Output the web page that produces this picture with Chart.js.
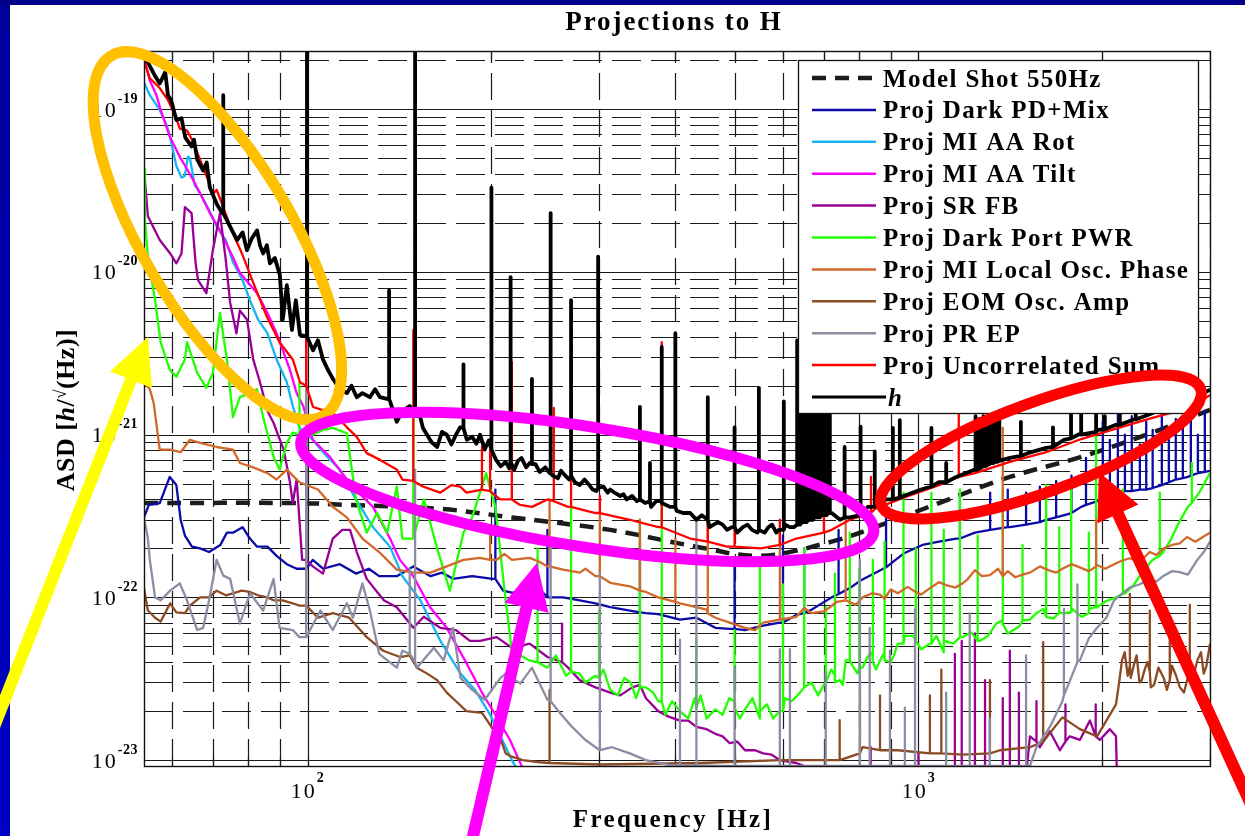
<!DOCTYPE html>
<html>
<head>
<meta charset="utf-8">
<title>Projections to H</title>
<script src="https://cdn.jsdelivr.net/npm/chart.js@4.4.1/dist/chart.umd.min.js"></script>
<style>
  html, body { margin: 0; padding: 0; background: #fff; overflow: hidden; }
  canvas { display: block; }
</style>
</head>
<body>
<canvas id="c" width="1245" height="836"></canvas>
<script>
// ---- axis ranges ----
const X_MIN = 54, X_MAX = 3000;
const Y_MIN = 0.92e-23, Y_MAX = 2.28e-19;
const X_DECADES = [2, 3];
const Y_DECADES = [-23, -22, -21, -20, -19];

// ---- series: [frequency Hz, ASD] and spikes [frequency Hz, base ASD, peak ASD] ----
const shotLine = [[54,3.8e-22],[97,3.8e-22],[116,3.7e-22],[165,3.5e-22],[216,3.1e-22],[313,2.6e-22],[433,2.05e-22],[552,1.8e-22],[721,2.2e-22],[849,2.7e-22],[1080,3.8e-22],[1411,5.5e-22],[1846,7.3e-22],[2415,1.03e-21],[3000,1.42e-21]];

const darkPdLine = [[54,3.1e-22],[55,3.7e-22],[57.3,3.8e-22],[58.8,4.9e-22],[59.5,5.5e-22],[61,4.9e-22],[62,3.0e-22],[63,2.4e-22],[64.7,2.05e-22],[66.7,2.0e-22],[69,1.9e-22],[72,2.1e-22],[73.8,2.5e-22],[75.5,2.5e-22],[78.3,2.7e-22],[80.5,2.3e-22],[82.7,2.05e-22],[86,2.05e-22],[89,1.8e-22],[92.5,1.6e-22],[96,1.5e-22],[102,1.7e-22],[106,1.5e-22],[113,1.6e-22],[120,1.4e-22],[126,1.5e-22],[131,1.35e-22],[140,1.35e-22],[149,1.55e-22],[159,1.35e-22],[166,1.42e-22],[173,1.3e-22],[186,1.35e-22],[201,1.3e-22],[209,1.1e-22],[216,1.07e-22],[231,1.07e-22],[240,1.12e-22],[247,1.0e-22],[262,1.0e-22],[279,9.6e-23],[296,9.2e-23],[313,8.7e-23],[337,8.3e-23],[358,8.0e-23],[375,7.9e-23],[407,7.3e-23],[433,7.5e-23],[465,6.5e-23],[491,6.4e-23],[520,6.3e-23],[557,6.7e-23],[593,7.0e-23],[631,7.8e-23],[668,8.4e-23],[721,1.0e-22],[772,1.14e-22],[804,1.27e-22],[885,1.53e-22],[945,1.86e-22],[1015,2.1e-22],[1080,2.2e-22],[1153,2.3e-22],[1237,2.5e-22],[1411,2.7e-22],[1618,3.0e-22],[1846,3.6e-22],[2105,4.4e-22],[2415,4.7e-22],[2760,5.5e-22],[3000,6.0e-22]];
const darkPdSpikes = [[99.5,1.5e-22,9.6e-22],[203,1.3e-22,4.6e-22],[247,1.0e-22,2.6e-22],[350,8.1e-23,2.2e-22],[500,6.4e-23,1.6e-22],[600,7.0e-23,2.4e-22],[650,8.0e-23,2.0e-22],[740,1.05e-22,2.6e-22],[885,1.53e-22,3.2e-22],[1169,2.3e-22,4.2e-22],[1310,2.6e-22,4.4e-22],[1400,2.7e-22,4.6e-22],[1500,2.8e-22,4.4e-22],[1580,2.9e-22,4.8e-22],[1680,3.1e-22,5.2e-22],[1780,3.3e-22,5.6e-22],[1880,3.7e-22,7.2e-22],[2003,4.0e-22,1.2e-21],[2057,4.2e-22,9.3e-22],[2120,4.4e-22,1.33e-21],[2177,4.5e-22,1.0e-21],[2234,4.5e-22,1.3e-21],[2303,4.6e-22,8.7e-22],[2359,4.6e-22,1.2e-21],[2417,4.7e-22,1.07e-21],[2502,4.9e-22,1.33e-21],[2569,5.1e-22,9.3e-22],[2637,5.3e-22,1.25e-21],[2708,5.4e-22,1.1e-21],[2791,5.6e-22,1.33e-21],[2866,5.8e-22,1.0e-21],[2942,5.9e-22,1.4e-21]];

const aaRotLine = [[54,1.46e-19],[55.2,1.22e-19],[57.3,9.9e-20],[58.8,8.0e-20],[59.6,6.7e-20],[61,4.5e-20],[62.2,3.8e-20],[63,3.9e-20],[63.7,5.1e-20],[64.2,5.0e-20],[65.4,3.4e-20],[66.7,3.05e-20],[69,2.4e-20],[71,1.9e-20],[73.5,1.57e-20],[75.5,1.15e-20],[78.3,8.9e-21],[80.5,6.7e-21],[83,5.1e-21],[86,4.2e-21],[89,2.9e-21],[92.5,2.1e-21],[94.6,1.5e-21],[97,1.1e-21],[102,9.3e-22],[107,7.5e-22],[113,6.1e-22],[120,4.0e-22],[128,2.7e-22],[136.5,2.05e-22],[143,1.35e-22],[153,9.6e-23],[165,5.4e-23],[178,3.4e-23],[188,2.7e-23],[199,1.9e-23],[207,1.4e-23],[216,1.0e-23],[223,8.1e-24]];

const aaTiltLine = [[54,2.06e-19],[55.2,1.5e-19],[56.6,1.22e-19],[57.5,9.9e-20],[59.6,6.7e-20],[61.8,5.1e-20],[64.2,4.0e-20],[66.7,3.05e-20],[69.2,2.3e-20],[71.9,1.8e-20],[75.5,1.23e-20],[77.5,9.9e-21],[82.7,7.4e-21],[86,5.6e-21],[89,4.2e-21],[93.6,2.5e-21],[96,1.8e-21],[98.4,1.5e-21],[102,9.3e-22],[108.8,7.3e-22],[116,5.3e-22],[122,4.3e-22],[128,3.6e-22],[136.5,2.3e-22],[141.7,1.7e-22],[149,1.35e-22],[158.7,8.7e-23],[169,6.5e-23],[181,4.1e-23],[193,2.6e-23],[203,1.9e-23],[214.5,1.33e-23],[223,9.6e-24],[228,8.0e-24]];

const srFbLine = [[54,4.3e-20],[54.8,2.2e-20],[57.3,1.57e-20],[59.6,1.3e-20],[61,1.13e-20],[62.2,1.3e-20],[63,2.5e-20],[64.6,2.3e-20],[65.6,1.13e-20],[66.2,8.9e-21],[68.3,7.4e-21],[70,1.36e-20],[71.9,2.3e-20],[73.5,1.18e-20],[74.7,6.5e-21],[76.5,4.2e-21],[77.5,5.8e-21],[79.6,5.1e-21],[81.5,2.9e-21],[83.6,2.1e-21],[86,1.4e-21],[88,1.18e-21],[91.4,8.1e-22],[93.6,5.1e-22],[94.6,3.8e-22],[96,5.3e-22],[98,1.7e-22],[102,1.55e-22],[106,1.4e-22],[110,2.3e-22],[114,2.6e-22],[117.4,2.6e-22],[120.4,1.9e-22],[125,1.3e-22],[133.3,9.6e-23],[140,8.7e-23],[149,6.5e-23],[155,7.6e-23],[165,6.5e-23],[175,6.3e-23],[184.5,5.4e-23],[191.6,5.4e-23],[204,5.7e-23],[216,4.9e-23],[231,5.2e-23],[247,4.3e-23],[267,3.7e-23],[279,3.1e-23],[296,2.8e-23],[313,2.6e-23],[325,2.5e-23],[340,2.8e-23],[350,2.9e-23],[358,2.4e-23],[375,2.0e-23],[390,1.85e-23],[407,1.75e-23],[420,1.75e-23],[433,1.6e-23],[450,1.55e-23],[465,1.45e-23],[478,1.4e-23],[491,1.27e-23],[505,1.3e-23],[520,1.15e-23],[540,1.15e-23],[557,1.1e-23],[575,1.08e-23],[593,1.0e-23],[631,9.6e-24],[716,8.0e-24],[1500,8.0e-24],[1522,1.4e-23],[1580,1.2e-23],[1641,1.5e-23],[1704,1.15e-23],[1769,1.4e-23],[1837,1.33e-23],[1908,1.75e-23],[1981,1.33e-23],[2057,1.55e-23],[2105,1.4e-23],[2113,7.6e-24],[3000,7.0e-24]];
const srFbSpikes = [[99.5,1.7e-22,7.0e-21],[261,4.0e-23,6.9e-23],[835,8.0e-24,1.2e-23],[1000,8.0e-24,1.1e-23],[1147,8.0e-24,4.5e-23],[1177,8.0e-24,5.4e-23],[1237,8.0e-24,6.0e-23],[1285,8.0e-24,3.1e-23],[1374,8.0e-24,2.4e-23],[1411,8.0e-24,4.7e-23],[1460,8.0e-24,2.6e-23],[1560,1.3e-23,2.3e-23],[1740,1.3e-23,2.2e-23],[1950,1.4e-23,2.2e-23]];

const darkPortLine = [[54,4.3e-20],[54.2,2.1e-20],[54.8,1.23e-20],[56.3,6.7e-21],[57.5,3.7e-21],[59.5,2.5e-21],[61,2.27e-21],[63,2.9e-21],[63.5,3.7e-21],[66,2.4e-21],[68.3,1.94e-21],[70,2.4e-21],[71.9,5.6e-21],[73.8,2.9e-21],[75.5,1.28e-21],[77.5,1.7e-21],[80.5,1.8e-21],[82.7,1.9e-21],[84.6,1.28e-21],[88,7.3e-22],[90,6.1e-22],[92.5,8.9e-22],[94.6,1.03e-21],[102,1.0e-21],[106,1.07e-21],[110,1.1e-21],[116,1.02e-21],[120,4.0e-22],[125,2.5e-22],[130,3.3e-22],[135,2.5e-22],[140,4.8e-22],[143,2.3e-22],[155,4.0e-22],[163,2.0e-22],[171,1.1e-22],[180,2.5e-22],[186,3.1e-22],[196,5.8e-22],[203,3.6e-22],[211,9.6e-23],[216,4.7e-23],[231,4.1e-23],[247,3.7e-23],[255,4.4e-23],[265,3.3e-23],[279,3.4e-23],[285,3.0e-23],[296,3.3e-23],[305,3.6e-23],[313,2.7e-23],[322,2.5e-23],[330,3.2e-23],[338,3.0e-23],[345,2.4e-23],[358,2.8e-23],[368,2.6e-23],[375,2.3e-23],[385,1.9e-23],[395,2.3e-23],[407,2.0e-23],[420,1.8e-23],[430,2.4e-23],[440,2.5e-23],[450,1.8e-23],[465,2.05e-23],[478,1.9e-23],[490,2.4e-23],[500,2.3e-23],[510,1.8e-23],[520,2.05e-23],[535,2.4e-23],[550,1.8e-23],[565,2.2e-23],[578,1.8e-23],[593,2.0e-23],[605,2.4e-23],[620,2.3e-23],[640,2.6e-23],[668,3.0e-23],[685,2.5e-23],[700,2.9e-23],[720,3.6e-23],[730,3.3e-23],[744,3.1e-23],[752,2.9e-23],[760,4.1e-23],[780,3.8e-23],[795,3.4e-23],[810,3.7e-23],[825,4.3e-23],[840,4.6e-23],[852,3.6e-23],[865,4.1e-23],[880,4.6e-23],[900,4.0e-23],[912,4.4e-23],[925,5.2e-23],[950,5.8e-23],[980,5.8e-23],[1010,4.8e-23],[1044,5.2e-23],[1070,5.8e-23],[1100,4.6e-23],[1140,5.2e-23],[1181,5.7e-23],[1220,6.1e-23],[1260,5.4e-23],[1300,5.8e-23],[1340,6.9e-23],[1370,7.2e-23],[1400,6.0e-23],[1460,6.6e-23],[1522,7.3e-23],[1560,8.0e-23],[1600,8.5e-23],[1660,7.4e-23],[1720,8.0e-23],[1780,8.6e-23],[1850,7.6e-23],[1900,8.0e-23],[1960,8.7e-23],[2030,9.5e-23],[2105,1.0e-22],[2180,1.06e-22],[2250,1.19e-22],[2330,1.45e-22],[2415,1.7e-22],[2500,1.85e-22],[2578,2.2e-22],[2670,2.9e-22],[2760,3.6e-22],[2880,4.4e-22],[3000,5.8e-22]];
const darkPortSpikes = [[97,1.0e-21,2.1e-21],[149,2.3e-22,1.46e-21],[238,4.0e-23,2.0e-22],[270,3.5e-23,4.0e-22],[300,3.2e-23,8.3e-23],[350,2.8e-23,3.0e-22],[380,2.3e-23,4.0e-22],[433,2.1e-23,5.5e-23],[500,2.1e-23,6.3e-23],[550,2.0e-23,1.7e-22],[600,2.0e-23,1.2e-22],[650,2.8e-23,2.0e-22],[705,3.0e-23,8.7e-23],[730,3.0e-23,1.4e-22],[772,4.1e-23,2.5e-22],[800,3.7e-23,1.5e-22],[842,4.0e-23,1.7e-22],[880,4.1e-23,2.2e-22],[945,5.2e-23,4.4e-22],[990,5.4e-23,2.0e-22],[1050,5.2e-23,4.4e-22],[1100,5.4e-23,2.6e-22],[1169,5.7e-23,4.6e-22],[1250,5.4e-23,2.4e-22],[1374,6.9e-23,4.6e-22],[1480,7.2e-23,2.1e-22],[1618,7.6e-23,4.9e-22],[1700,8.0e-23,2.7e-22],[1777,8.1e-23,4.6e-22],[1900,8.5e-23,2.5e-22],[1953,8.7e-23,9.7e-22],[2160,1.05e-22,4.6e-22],[2483,1.8e-22,4.4e-22],[2801,3.8e-22,6.7e-22]];

const loPhaseLine = [[54,2.1e-21],[55.2,1.9e-21],[56,1.57e-21],[57.3,8.1e-22],[59.6,8.1e-22],[62,7.8e-22],[64.2,9.3e-22],[66.7,8.9e-22],[71,8.4e-22],[75.5,8.1e-22],[77.5,6.7e-22],[81.5,6.3e-22],[86,5.8e-22],[89,5.3e-22],[92.5,6.1e-22],[97,5.1e-22],[104,4.6e-22],[110,3.6e-22],[116,3.1e-22],[123,2.3e-22],[131,1.9e-22],[140,1.48e-22],[149,1.42e-22],[159,1.42e-22],[169,1.55e-22],[180,1.7e-22],[191.6,1.75e-22],[204,1.7e-22],[210,1.85e-22],[216,1.7e-22],[231,1.75e-22],[240,1.65e-22],[247,1.55e-22],[262,1.48e-22],[279,1.42e-22],[285,1.5e-22],[296,1.35e-22],[313,1.23e-22],[337,1.17e-22],[350,1.1e-22],[358,1.08e-22],[375,1.0e-22],[407,9.2e-23],[433,8.7e-23],[450,8.4e-23],[465,7.5e-23],[491,7.0e-23],[520,6.5e-23],[540,6.3e-23],[557,7.0e-23],[593,7.3e-23],[631,7.6e-23],[650,8.6e-23],[668,8.0e-23],[700,8.2e-23],[716,8.7e-23],[735,9.4e-23],[760,9.6e-23],[790,9.0e-23],[810,1.0e-22],[840,1.06e-22],[865,1.04e-22],[880,9.8e-23],[900,1.12e-22],[925,1.06e-22],[960,1.16e-22],[985,1.09e-22],[1010,1.04e-22],[1044,1.14e-22],[1080,1.24e-22],[1110,1.19e-22],[1150,1.15e-22],[1181,1.22e-22],[1200,1.28e-22],[1237,1.47e-22],[1270,1.35e-22],[1309,1.37e-22],[1350,1.5e-22],[1400,1.45e-22],[1440,1.33e-22],[1480,1.38e-22],[1522,1.42e-22],[1580,1.55e-22],[1630,1.47e-22],[1680,1.42e-22],[1720,1.5e-22],[1780,1.6e-22],[1837,1.53e-22],[1900,1.45e-22],[1960,1.58e-22],[2020,1.5e-22],[2090,1.6e-22],[2150,1.68e-22],[2218,1.74e-22],[2300,1.65e-22],[2391,1.9e-22],[2450,1.82e-22],[2520,2.0e-22],[2600,2.1e-22],[2678,2.15e-22],[2750,2.35e-22],[2840,2.2e-22],[2920,2.35e-22],[3000,2.5e-22]];
const loPhaseSpikes = [[199,1.7e-22,2.6e-22],[249,1.55e-22,4.0e-22],[301,1.35e-22,3.3e-22],[350,1.1e-22,3.0e-22],[400,9.4e-23,2.3e-22],[452,8.0e-23,3.3e-22],[593,7.3e-23,2.5e-22],[760,9.6e-23,3.1e-22],[1374,1.35e-22,1.1e-21],[1953,1.55e-22,3.0e-22]];

const eomLine = [[54,1.14e-22],[54.8,8.3e-23],[56.3,7.5e-23],[57.5,7.1e-23],[59.6,9.2e-23],[61,8.1e-23],[63,8.0e-23],[64.2,8.9e-23],[66.7,1.0e-22],[69,1.0e-22],[71,1.1e-22],[73.5,1.03e-22],[75.5,1.06e-22],[78,1.1e-22],[80.5,1.08e-22],[83,1.03e-22],[86,1.0e-22],[88,9.6e-23],[91,9.6e-23],[94.6,9.2e-23],[97,8.9e-23],[104,7.5e-23],[110,8.0e-23],[117,7.5e-23],[122,6.3e-23],[125,5.7e-23],[133,4.7e-23],[141.7,4.3e-23],[147,4.4e-23],[151,3.7e-23],[157,3.4e-23],[163,3.1e-23],[169,2.6e-23],[175,2.3e-23],[182,2.0e-23],[193,1.95e-23],[200,1.6e-23],[206.6,1.38e-23],[211,1.1e-23],[216,1.05e-23],[225,1.0e-23],[240,9.7e-24],[301,9.4e-24],[439,9.6e-24],[593,1.0e-23],[716,1.0e-23],[810,1.2e-23],[925,1.15e-23],[1044,1.1e-23],[1181,1.08e-23],[1359,1.15e-23],[1522,1.2e-23],[1720,1.83e-23],[1837,1.55e-23],[1960,1.4e-23],[2090,2.1e-23],[2105,2.2e-23],[2130,3.0e-23],[2153,4.1e-23],[2175,4.6e-23],[2200,3.3e-23],[2225,3.2e-23],[2250,3.8e-23],[2275,4.4e-23],[2300,3.0e-23],[2320,3.1e-23],[2345,3.6e-23],[2370,4.0e-23],[2400,2.8e-23],[2430,2.9e-23],[2470,3.7e-23],[2520,3.2e-23],[2550,2.7e-23],[2600,3.8e-23],[2640,3.3e-23],[2678,2.8e-23],[2720,2.6e-23],[2780,3.6e-23],[2820,3.3e-23],[2860,4.1e-23],[2900,4.6e-23],[2930,3.4e-23],[2960,3.8e-23],[3000,5.2e-23]];
const eomSpikes = [[99.5,8.9e-23,1.7e-22],[249,9.6e-24,2.7e-23],[743,1.0e-23,1.76e-23],[802,1.1e-23,2.8e-23],[865,1.15e-23,2.5e-23],[1044,1.1e-23,2.5e-23],[1090,1.1e-23,3.6e-23],[1309,1.1e-23,3.1e-23],[1600,1.3e-23,5.3e-23],[2218,3.8e-23,1.05e-22],[2391,3.5e-23,8.3e-23],[2578,3.1e-23,7.5e-23],[2780,3.6e-23,9.0e-23]];

const prEpLine = [[54,3.1e-22],[54.8,2.3e-22],[55.2,1.7e-22],[56.3,1.0e-22],[57.5,9.6e-23],[59.6,1.1e-22],[61.8,1.22e-22],[63.5,9.6e-23],[66,6.3e-23],[67.5,6.5e-23],[69,9.6e-23],[71,1.7e-22],[72.8,1.36e-22],[74.7,1.3e-22],[77.5,6.9e-23],[80.5,1.06e-22],[84.6,8.3e-23],[88,1.3e-22],[90,6.5e-23],[94.6,6.3e-23],[97,5.7e-23],[105,8.3e-23],[110,6.3e-23],[116,9.2e-23],[118.7,7.5e-23],[123,1.22e-22],[126.5,8.3e-23],[131,4.5e-23],[140,3.7e-23],[143,4.7e-23],[151,3.7e-23],[161,4.9e-23],[167,4.1e-23],[173,6.5e-23],[178,3.2e-23],[186,2.7e-23],[195,2.35e-23],[207,3.2e-23],[211,3.4e-23],[223,2.95e-23],[233,3.7e-23],[247,2.35e-23],[259,1.95e-23],[271,1.6e-23],[285,1.33e-23],[301,1.15e-23],[315,1.2e-23],[337,1.1e-23],[358,1.0e-23],[392,9.3e-24],[473,9.2e-24],[1522,9.2e-24],[1560,1.2e-23],[1641,1.6e-23],[1720,2.3e-23],[1837,4.1e-23],[1900,5.6e-23],[1960,6.5e-23],[2030,7.5e-23],[2090,9.6e-23],[2150,1.05e-22],[2218,1.15e-22],[2300,1.2e-22],[2391,1.3e-22],[2450,1.25e-22],[2520,1.36e-22],[2600,1.45e-22],[2678,1.43e-22],[2760,1.38e-22],[2860,1.7e-22],[2930,1.9e-22],[3000,2.2e-22]];
const prEpSpikes = [[99.5,5.7e-23,3.7e-21],[147,4.5e-23,1.5e-22],[150,4.0e-23,6.1e-22],[250,2.3e-23,2.2e-22],[301,1.15e-23,1.4e-22],[407,9.3e-24,5.5e-23],[433,9.3e-24,3.1e-22],[500,9.2e-24,3.7e-23],[593,9.2e-24,4.8e-23],[616,9.2e-24,4.8e-23],[705,9.2e-24,3.4e-23],[802,9.2e-24,1.7e-22],[832,9.2e-24,6.5e-23],[898,9.2e-24,4.7e-23],[950,9.2e-24,2.1e-23],[987,9.2e-24,8.5e-23],[1110,9.2e-24,2.6e-23],[1213,9.2e-24,8.0e-23],[1308,9.2e-24,1.8e-23],[1500,9.2e-24,4.4e-23],[1730,2.5e-23,8.5e-23],[1820,4.0e-23,1.2e-22]];

const uncorrLine = [[54,2.0e-19],[55.2,1.55e-19],[57.3,1.35e-19],[59.1,1.14e-19],[61,8.8e-20],[61.8,7.6e-20],[63.5,7.4e-20],[64.7,6.5e-20],[66.7,4.9e-20],[68.7,3.7e-20],[70,3.0e-20],[71,3.2e-20],[72.5,2.6e-20],[75.5,1.73e-20],[78.3,1.27e-20],[81.5,8.6e-21],[85.8,5.3e-21],[90,3.7e-21],[94.6,2.9e-21],[97.2,2.1e-21],[102.1,1.48e-21],[105.6,1.42e-21],[108.8,1.42e-21],[113,1.23e-21],[116,1.11e-21],[120.4,9.7e-22],[125,7.7e-22],[131.4,7.0e-22],[140,6.1e-22],[143,5.3e-22],[154.5,4.8e-22],[164.8,4.4e-22],[172,4.9e-22],[177.7,4.8e-22],[182,4.4e-22],[206.6,4.0e-22],[222.8,3.7e-22],[233,3.6e-22],[247,4.0e-22],[267,3.6e-22],[296,3.3e-22],[337,3.0e-22],[375,2.7e-22],[423,2.3e-22],[486,2.05e-22],[552,2.0e-22],[631,2.3e-22],[721,2.6e-22],[772,3.0e-22],[849,3.5e-22],[945,4.1e-22],[1080,4.9e-22],[1237,5.8e-22],[1411,6.8e-22],[1618,7.8e-22],[1846,9.4e-22],[2105,1.09e-21],[2415,1.27e-21],[2760,1.45e-21],[3000,1.75e-21]];
const uncorrSpikes = [[99.5,2.0e-21,7.4e-20],[149,5.2e-22,4.4e-21],[193,4.6e-22,8.4e-22],[199,4.5e-22,8.1e-22],[216,4.0e-22,2.8e-21],[253,3.9e-22,1.46e-21],[270,3.6e-22,3.2e-21],[301,3.3e-22,4.2e-22],[380,2.7e-22,3.7e-21],[452,2.2e-22,3.0e-22],[500,2.05e-22,2.8e-22],[593,2.1e-22,3.0e-22],[700,2.5e-22,3.4e-22],[836,3.3e-22,5.5e-22],[1164,5.5e-22,1.36e-21]];

const hLine = [[54,2.15e-19],[54.8,1.94e-19],[56.2,1.62e-19],[57.3,1.44e-19],[58.5,1.69e-19],[59.1,1.22e-19],[59.8,1.14e-19],[61.0,8.6e-20],[62.2,8.8e-20],[63.1,6.7e-20],[64.6,5.9e-20],[65.2,6.5e-20],[66.0,4.9e-20],[67.5,4.2e-20],[68.4,4.7e-20],[69.2,3.3e-20],[71.1,2.6e-20],[72.5,2.3e-20],[74.7,1.9e-20],[76.7,1.57e-20],[78.3,1.75e-20],[79.6,1.36e-20],[81.0,1.6e-20],[82.7,1.8e-20],[83.6,1.46e-20],[84.6,1.3e-20],[85.8,1.46e-20],[86.8,1.13e-20],[88.4,1.22e-20],[90.1,9.6e-21],[91.1,5.1e-21],[92.5,8.3e-21],[94.3,4.4e-21],[95.7,6.7e-21],[97.2,4.1e-21],[102.1,3.3e-21],[104,3.8e-21],[106,2.9e-21],[108,2.5e-21],[110.1,2.2e-21],[113,1.9e-21],[116,1.8e-21],[118,2.0e-21],[120.4,1.7e-21],[123,1.8e-21],[126.5,1.7e-21],[129,1.9e-21],[131.4,1.7e-21],[136.5,1.6e-21],[140,1.2e-21],[143,1.4e-21],[147,1.5e-21],[152.8,1.3e-21],[154.5,1.1e-21],[158.7,9.3e-22],[160,8.9e-22],[163,8.4e-22],[166,1.04e-21],[169,1.0e-21],[172,8.7e-22],[175,1.0e-21],[177.7,1.11e-21],[182.3,9.3e-22],[186,9.7e-22],[189,8.8e-22],[191.6,1.0e-21],[195,8.1e-22],[198,9.2e-22],[203.5,7.0e-22],[207,6.4e-22],[211,6.8e-22],[214,6.2e-22],[218,6.1e-22],[221,6.9e-22],[224,7.2e-22],[228,6.3e-22],[231,6.7e-22],[236,6.6e-22],[240,5.9e-22],[245,6.3e-22],[249,5.8e-22],[252,5.6e-22],[257,5.4e-22],[260,6.0e-22],[263,5.7e-22],[268,5.3e-22],[274,5.1e-22],[279,4.9e-22],[284,5.3e-22],[288,5.0e-22],[293,4.6e-22],[297,4.5e-22],[305,4.8e-22],[310,4.4e-22],[313,4.6e-22],[318,4.4e-22],[325,4.2e-22],[329,4.3e-22],[333,4.0e-22],[340,4.2e-22],[346,3.9e-22],[357,3.8e-22],[365,3.6e-22],[372,3.9e-22],[380,3.9e-22],[392,3.6e-22],[402,3.4e-22],[412,3.3e-22],[423,3.3e-22],[433,3.0e-22],[442,3.2e-22],[455,2.7e-22],[462,2.8e-22],[470,2.9e-22],[478,2.8e-22],[486,2.6e-22],[495,2.7e-22],[505,2.5e-22],[516,2.7e-22],[525,2.8e-22],[534,2.6e-22],[545,2.5e-22],[560,2.5e-22],[568,2.7e-22],[576,2.8e-22],[585,2.5e-22],[591,2.6e-22],[605,2.8e-22],[616,2.7e-22],[625,2.7e-22],[680,3.1e-22],[721,3.3e-22],[744,3.0e-22],[772,3.1e-22],[826,3.6e-22],[885,4.0e-22],[945,4.2e-22],[1010,4.6e-22],[1080,5.1e-22],[1153,5.5e-22],[1237,6.1e-22],[1318,6.7e-22],[1411,7.2e-22],[1510,7.7e-22],[1618,8.3e-22],[1730,9.3e-22],[1846,1.02e-21],[1966,1.07e-21],[2105,1.15e-21],[2250,1.24e-21],[2415,1.36e-21],[2578,1.48e-21],[2760,1.64e-21],[3000,1.89e-21]];
const hSpikes = [[72.8,2.3e-20,1.22e-19],[99.8,4.0e-21,2.4e-19],[136,1.65e-21,7.7e-21],[150,1.3e-21,2.4e-19],[180,1.1e-21,2.7e-21],[200,8.1e-22,3.3e-20],[215,6.8e-22,9.3e-21],[233,6.6e-22,2.2e-21],[250,5.8e-22,2.3e-20],[270,5.6e-22,6.7e-21],[299,4.7e-22,1.24e-20],[350,4.0e-22,1.48e-21],[363.5,3.9e-22,6.7e-22],[380,3.8e-22,3.46e-21],[400,3.6e-22,4.2e-21],[452,3.0e-22,1.7e-21],[500,2.7e-22,1.11e-21],[548,2.6e-22,1.94e-21],[602,2.6e-22,1.6e-21],[633,2.8e-22,3.8e-21],[636,2.8e-22,2.6e-21],[640,2.8e-22,3.2e-21],[645,2.9e-22,2.4e-21],[648,2.9e-22,3.0e-21],[652,2.9e-22,2.9e-21],[656,2.9e-22,2.2e-21],[660,3.0e-22,1.9e-21],[664,3.0e-22,2.8e-21],[668,3.0e-22,3.3e-21],[672,3.0e-22,2.1e-21],[676,3.1e-22,2.2e-21],[680,3.1e-22,2.9e-21],[685,3.1e-22,2.7e-21],[689,3.1e-22,1.8e-21],[694,3.2e-22,2.0e-21],[698,3.2e-22,2.6e-21],[703,3.2e-22,3.1e-21],[707,3.2e-22,1.9e-21],[712,3.3e-22,1.6e-21],[716,3.3e-22,2.0e-21],[757,3.1e-22,8.4e-22],[804,3.2e-22,1.12e-21],[848,3.6e-22,7.9e-22],[908,4.0e-22,1.1e-21],[932,4.1e-22,1.23e-21],[1050,4.8e-22,1.1e-21],[1110,5.1e-22,6.7e-22],[1240,6.1e-22,1.3e-21],[1249,6.1e-22,1.2e-21],[1258,6.2e-22,1.25e-21],[1268,6.3e-22,1.2e-21],[1277,6.4e-22,1.3e-21],[1287,6.4e-22,1.2e-21],[1296,6.5e-22,1.25e-21],[1306,6.6e-22,1.2e-21],[1316,6.7e-22,1.3e-21],[1326,6.7e-22,1.2e-21],[1336,6.8e-22,1.25e-21],[1346,6.8e-22,1.2e-21],[1356,6.9e-22,1.3e-21],[1471,7.4e-22,1.2e-21],[1660,8.4e-22,1.11e-21],[1777,9.5e-22,1.33e-21],[1846,1.0e-21,1.33e-21],[1953,1.04e-21,1.33e-21],[2018,1.08e-21,1.3e-21],[2136,1.15e-21,1.4e-21],[2268,1.24e-21,1.5e-21],[2408,1.35e-21,1.6e-21],[2559,1.46e-21,1.75e-21],[2718,1.6e-21,1.9e-21],[2887,1.75e-21,2.05e-21]];

// ---- highlight marks, anchored in (frequency, ASD) ----
const ovals = [
  { f: 71.2, v: 1.67e-20, rx: 209, ry: 75, tilt: 59.5, color: '#ffc000' },
  { f: 287,  v: 4.77e-22, rx: 290, ry: 60, tilt: 9,    color: '#ff00ff' },
  { f: 1586, v: 8.4e-22,  rx: 170, ry: 45, tilt: -20,  color: '#ff0000' }
];
const arrows = [
  { from: [29.2, 1.0e-23], to: [54.8, 3.98e-21], color: '#ffff00' },
  { from: [185, 2.97e-24],  to: [237.5, 1.63e-22], color: '#ff00ff' },
  { from: [3761, 2.97e-24], to: [1973, 5.89e-22],  color: '#ff0000' }
];

const SERIF = '"Liberation Serif", "Times New Roman", serif';

// merge a base trace with its narrow line features, ordered by frequency
function buildPoints(line, spikes) {
  const items = line.map(p => ({ f: p[0], pts: [p] }));
  (spikes || []).forEach(s => items.push({ f: s[0], pts: [[s[0], s[1]], [s[0], s[2]], [s[0], s[1]]] }));
  items.sort((a, b) => a.f - b.f);
  return items.flatMap(it => it.pts.map(([x, y]) => ({ x, y })));
}

function ds(label, color, width, order, line, spikes, extra) {
  return Object.assign({
    label, borderColor: color, backgroundColor: color, borderWidth: width, order,
    data: buildPoints(line, spikes), pointRadius: 0, tension: 0, fill: false, clip: 0,
    borderJoinStyle: 'round'
  }, extra || {});
}

const datasets = [
  ds('Model Shot 550Hz', '#1c1c1c', 4.5, 10, shotLine, null, { borderDash: [14, 9], tension: 0.35, borderJoinStyle: 'miter' }),
  ds('Proj Dark PD+Mix', '#0a0aa8', 2.3, 9, darkPdLine, darkPdSpikes),
  ds('Proj MI AA Rot', '#18b4f0', 2.3, 8, aaRotLine, null),
  ds('Proj MI AA Tilt', '#ff00ff', 2.3, 7, aaTiltLine, null),
  ds('Proj SR FB', '#980098', 2.3, 6, srFbLine, srFbSpikes),
  ds('Proj Dark Port PWR', '#22ff00', 2.3, 5, darkPortLine, darkPortSpikes),
  ds('Proj MI Local Osc. Phase', '#d2692a', 2.3, 4, loPhaseLine, loPhaseSpikes),
  ds('Proj EOM Osc. Amp', '#8b4a24', 2.3, 3, eomLine, eomSpikes),
  ds('Proj PR EP', '#8c8ca2', 2.3, 2, prEpLine, prEpSpikes),
  ds('Proj Uncorrelated Sum', '#ff0000', 2.3, 1, uncorrLine, uncorrSpikes),
  ds('h', '#000000', 3.8, 0, hLine, hSpikes)
];

function setSpacing(ctx, px) { if ('letterSpacing' in ctx) ctx.letterSpacing = px + 'px'; }

// slide backdrop and the white figure sheet
const backdrop = {
  id: 'backdrop',
  beforeDraw(chart) {
    const { ctx, width, height } = chart;
    ctx.save();
    ctx.fillStyle = '#ffffff';
    ctx.fillRect(0, 0, width, height);
    const g = ctx.createLinearGradient(0, 0, 0, height);
    g.addColorStop(0, '#00009a');
    g.addColorStop(1, '#0000c6');
    ctx.fillStyle = g;
    ctx.fillRect(0, 0, 10, height);
    ctx.fillStyle = '#00008a';
    ctx.fillRect(0, 0, width, 5);
    ctx.restore();
  }
};

function gridValues(min, max) {
  const out = [];
  for (let e = Math.floor(Math.log10(min)); e <= Math.ceil(Math.log10(max)); e++) {
    for (let m = 1; m <= 9; m++) {
      const v = m * Math.pow(10, e);
      if (v >= min * 0.999 && v <= max * 1.001) out.push({ v, major: m === 1 });
    }
  }
  return out;
}

// MATLAB-style grid: solid decades, dashed minors, inward ticks on all sides
const gridLayer = {
  id: 'gridLayer',
  beforeDatasetsDraw(chart) {
    const { ctx, chartArea: a, scales: { x, y } } = chart;
    ctx.save();
    ctx.beginPath();
    ctx.rect(a.left, a.top, a.right - a.left, a.bottom - a.top);
    ctx.clip();
    ctx.strokeStyle = '#1a1a1a';
    ctx.lineWidth = 1.2;
    const tick = 10;
    gridValues(X_MIN, X_MAX).forEach(({ v, major }) => {
      const px = Math.round(x.getPixelForValue(v)) + 0.5;
      ctx.setLineDash(major ? [] : [27, 10]);
      ctx.beginPath(); ctx.moveTo(px, a.bottom); ctx.lineTo(px, a.top); ctx.stroke();
      ctx.setLineDash([]);
      ctx.beginPath();
      ctx.moveTo(px, a.bottom); ctx.lineTo(px, a.bottom - tick);
      ctx.moveTo(px, a.top); ctx.lineTo(px, a.top + tick);
      ctx.stroke();
    });
    gridValues(Y_MIN, Y_MAX).forEach(({ v, major }) => {
      const py = Math.round(y.getPixelForValue(v)) + 0.5;
      ctx.setLineDash(major ? [] : [29, 10]);
      ctx.beginPath(); ctx.moveTo(a.left, py); ctx.lineTo(a.right, py); ctx.stroke();
      ctx.setLineDash([]);
      ctx.beginPath();
      ctx.moveTo(a.left, py); ctx.lineTo(a.left + tick, py);
      ctx.moveTo(a.right, py); ctx.lineTo(a.right - tick, py);
      ctx.stroke();
    });
    ctx.restore();
  }
};

// "10" with a raised exponent
function powerParts(ctx, exp) {
  ctx.font = '22px ' + SERIF; setSpacing(ctx, 2);
  const w1 = ctx.measureText('10').width;
  ctx.font = 'bold 14px ' + SERIF; setSpacing(ctx, 0.5);
  const w2 = ctx.measureText(exp).width;
  return { w1, w2, total: w1 + w2 };
}
function drawPower(ctx, exp, xLeft, baseY, supY) {
  const m = powerParts(ctx, exp);
  ctx.font = '22px ' + SERIF; setSpacing(ctx, 2);
  ctx.fillText('10', xLeft, baseY);
  ctx.font = 'bold 14px ' + SERIF; setSpacing(ctx, 0.5);
  ctx.fillText(exp, xLeft + m.w1, supY);
}

const decorations = {
  id: 'decorations',
  afterDatasetsDraw(chart) {
    const { ctx, chartArea: a, scales: { x, y } } = chart;
    ctx.save();
    // axes box
    ctx.strokeStyle = '#111';
    ctx.lineWidth = 1.4;
    ctx.strokeRect(Math.round(a.left) + 0.5, Math.round(a.top) + 0.5, Math.round(a.right - a.left), Math.round(a.bottom - a.top));

    ctx.fillStyle = '#000';
    ctx.textBaseline = 'alphabetic';
    ctx.textAlign = 'left';
    // y tick labels
    Y_DECADES.forEach(e => {
      const gy = y.getPixelForValue(Math.pow(10, e));
      const exp = String(e);
      const m = powerParts(ctx, exp);
      drawPower(ctx, exp, a.left - 6 - m.total, gy + 7.5, gy - 6.5);
    });
    // x tick labels
    X_DECADES.forEach(e => {
      const gx = x.getPixelForValue(Math.pow(10, e));
      const exp = String(e);
      const m = powerParts(ctx, exp);
      drawPower(ctx, exp, gx - m.total / 2, a.bottom + 32, a.bottom + 16);
    });

    // title and axis labels
    ctx.textAlign = 'center';
    ctx.font = 'bold 27px ' + SERIF;
    setSpacing(ctx, 1.9);
    ctx.fillText('Projections to H', (a.left + a.right) / 2 - 3, 30);
    ctx.font = 'bold 25px ' + SERIF;
    setSpacing(ctx, 2.4);
    ctx.fillText('Frequency [Hz]', (a.left + a.right) / 2 - 4, 827);

    // rotated y label with italic h
    ctx.save();
    ctx.translate(74, 410);
    ctx.rotate(-Math.PI / 2);
    ctx.textAlign = 'left';
    setSpacing(ctx, 0.5);
    const parts = [
      { t: 'ASD [', f: 'bold 26px ' + SERIF, dy: 0 },
      { t: 'h', f: 'italic bold 26px ' + SERIF, dy: 0 },
      { t: '/', f: 'bold 26px ' + SERIF, dy: 0 },
      { t: '\u221A', f: 'bold 17px ' + SERIF, dy: -8 },
      { t: '(Hz)]', f: 'bold 26px ' + SERIF, dy: 0 }
    ];
    let total = 0;
    parts.forEach(p => { ctx.font = p.f; p.w = ctx.measureText(p.t).width; total += p.w; });
    let ux = -total / 2;
    parts.forEach(p => { ctx.font = p.f; ctx.fillText(p.t, ux, p.dy); ux += p.w; });
    ctx.restore();

    // legend
    const lg = { left: 798, top: 60, right: 1198, bottom: 413, row0: 78, step: 31.9 };
    ctx.fillStyle = '#ffffff';
    ctx.fillRect(lg.left, lg.top, lg.right - lg.left, lg.bottom - lg.top);
    ctx.strokeStyle = '#111';
    ctx.lineWidth = 1.3;
    ctx.strokeRect(lg.left + 0.5, lg.top + 0.5, lg.right - lg.left, lg.bottom - lg.top);
    ctx.textAlign = 'left';
    chart.data.datasets.forEach((d, i) => {
      const cy = lg.row0 + i * lg.step;
      const isH = d.label === 'h';
      ctx.strokeStyle = d.borderColor;
      ctx.lineWidth = d.borderDash ? 4.5 : (isH ? 3 : 2.5);
      ctx.setLineDash(d.borderDash || []);
      ctx.beginPath();
      ctx.moveTo(812, cy);
      ctx.lineTo(isH ? 886 : 876, cy);
      ctx.stroke();
      ctx.setLineDash([]);
      ctx.fillStyle = '#000';
      ctx.font = (isH ? 'italic bold 25px ' : 'bold 25px ') + SERIF;
      setSpacing(ctx, 1.35);
      ctx.fillText(d.label, isH ? 888 : 883, cy + 8.5);
    });
    setSpacing(ctx, 0);

    // highlight ovals and arrows
    ovals.forEach(o => {
      const cx = x.getPixelForValue(o.f), cy = y.getPixelForValue(o.v);
      ctx.strokeStyle = o.color;
      ctx.lineWidth = 11;
      ctx.beginPath();
      ctx.ellipse(cx, cy, o.rx, o.ry, o.tilt * Math.PI / 180, 0, Math.PI * 2);
      ctx.stroke();
    });
    arrows.forEach(ar => {
      const x0 = x.getPixelForValue(ar.from[0]), y0 = y.getPixelForValue(ar.from[1]);
      const x1 = x.getPixelForValue(ar.to[0]), y1 = y.getPixelForValue(ar.to[1]);
      const len = Math.hypot(x1 - x0, y1 - y0);
      const ux = (x1 - x0) / len, uy = (y1 - y0) / len;
      const headLen = 46, headHalf = 22.5;
      const bx = x1 - ux * headLen, by = y1 - uy * headLen;
      ctx.strokeStyle = ar.color;
      ctx.fillStyle = ar.color;
      ctx.lineWidth = 12;
      ctx.lineCap = 'butt';
      ctx.beginPath(); ctx.moveTo(x0, y0); ctx.lineTo(bx + ux * 2, by + uy * 2); ctx.stroke();
      ctx.beginPath();
      ctx.moveTo(x1, y1);
      ctx.lineTo(bx - uy * headHalf, by + ux * headHalf);
      ctx.lineTo(bx + uy * headHalf, by - ux * headHalf);
      ctx.closePath();
      ctx.fill();
    });
    ctx.restore();
  }
};

new Chart(document.getElementById('c'), {
  type: 'line',
  data: { datasets },
  options: {
    responsive: false,
    animation: false,
    devicePixelRatio: 1,
    events: [],
    layout: { padding: { left: 144, right: 35, top: 51, bottom: 70 } },
    plugins: { legend: { display: false }, tooltip: { enabled: false }, title: { display: false } },
    elements: { point: { radius: 0 } },
    scales: {
      x: {
        type: 'logarithmic', min: X_MIN, max: X_MAX,
        ticks: { display: false }, grid: { display: false, drawTicks: false }, border: { display: false }
      },
      y: {
        type: 'logarithmic', min: Y_MIN, max: Y_MAX,
        ticks: { display: false }, grid: { display: false, drawTicks: false }, border: { display: false }
      }
    }
  },
  plugins: [backdrop, gridLayer, decorations]
});
</script>
</body>
</html>
